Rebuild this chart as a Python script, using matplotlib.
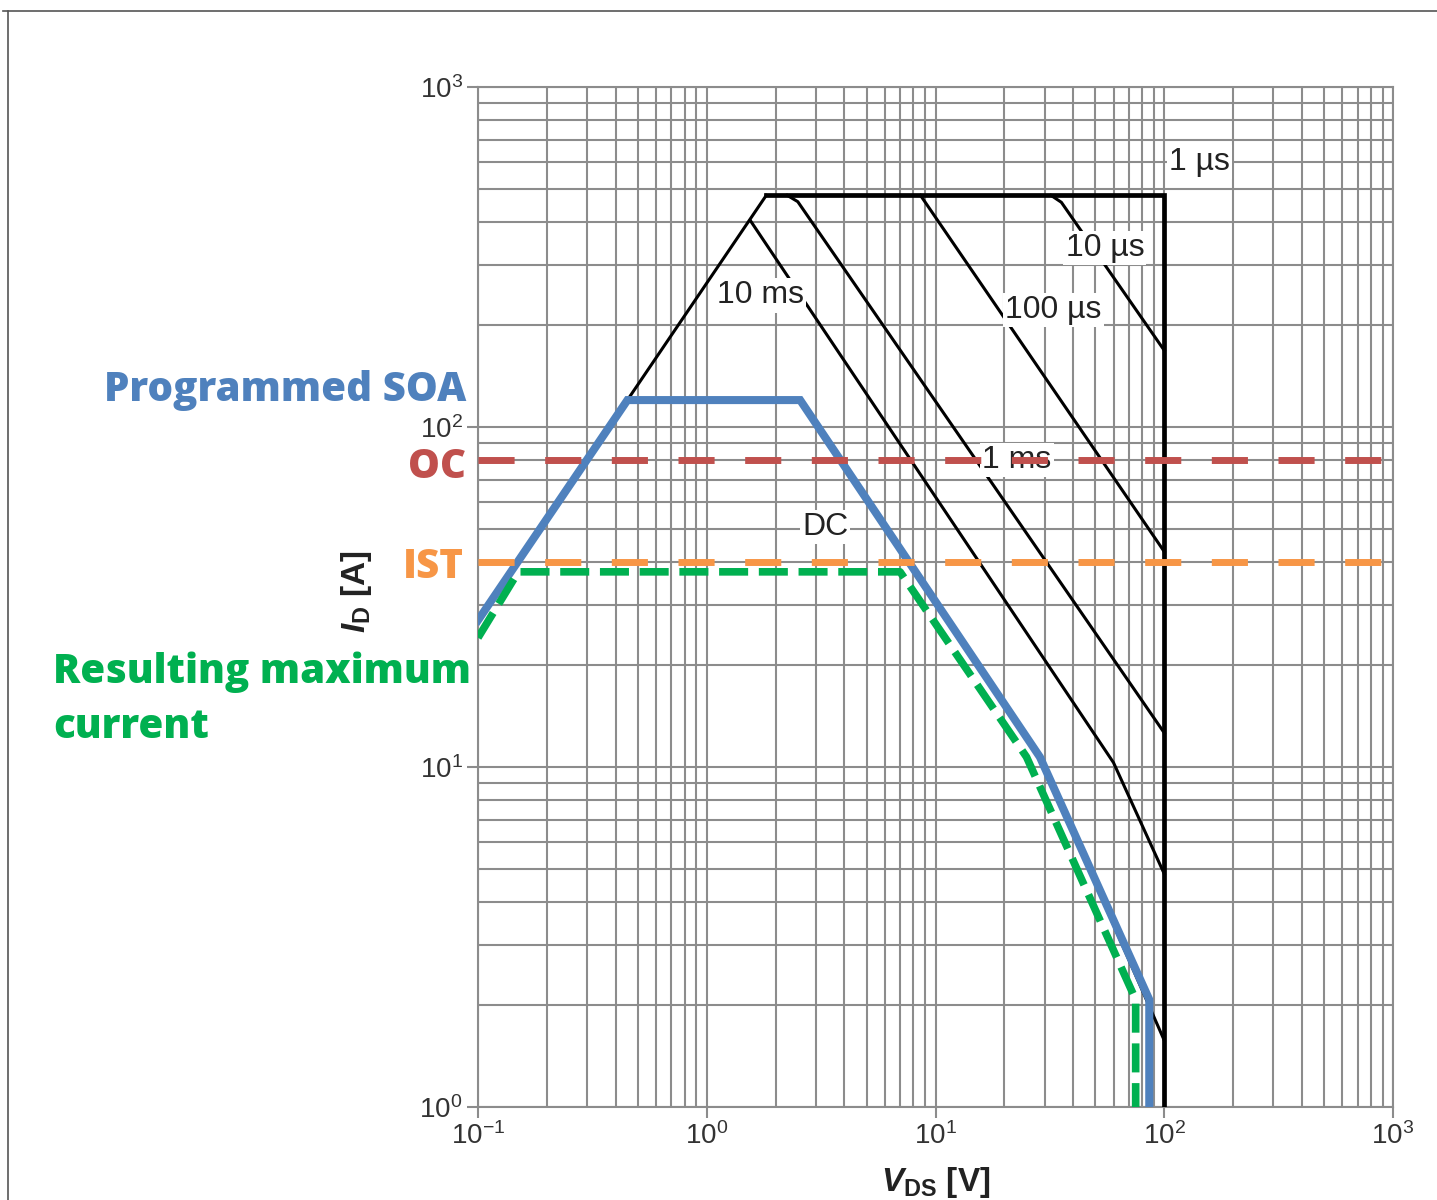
import matplotlib
matplotlib.use('Agg')
import matplotlib.pyplot as plt
from matplotlib.lines import Line2D
from matplotlib.ticker import NullFormatter

# datasheet SOA curves (V_DS in V, I_D in A)
v_rise = [0.1, 1.82]
i_rise = [27, 480]
v_top = [1.82, 100, 100]
i_top = [480, 480, 1]
v_10us = [32, 35.5, 100]
i_10us = [480, 458, 168]
v_100us = [8.6, 100]
i_100us = [480, 43]
v_1ms = [2.25, 2.5, 100]
i_1ms = [480, 460, 12.6]
v_10ms = [1.55, 60, 100]
i_10ms = [405, 10.3, 4.85]
v_dc = [0.45, 2.56, 28.6, 100]
i_dc = [120, 120, 10.7, 1.57]

# programmed SOA and resulting max current
v_soa = [0.1, 0.45, 2.56, 28.6, 86, 86]
i_soa = [27, 120, 120, 10.7, 2.07, 1]
v_res = [0.1, 0.15, 7.0, 25, 75, 75]
i_res = [24, 37.5, 37.5, 10.7, 2.07, 1]

oc_level = 80
ist_level = 40

curve_labels = ['1 µs', '10 µs', '100 µs', '10 ms', '1 ms', 'DC']
label_v = [143, 55, 32.7, 1.71, 22.7, 3.29]
label_i = [601, 336, 221, 244, 80, 50.8]

plt.rcParams['font.family'] = ['Liberation Sans', 'DejaVu Sans']
plt.rcParams['mathtext.fontset'] = 'custom'
plt.rcParams['mathtext.rm'] = 'Liberation Sans'
plt.rcParams['mathtext.it'] = 'Liberation Sans:italic:bold'
plt.rcParams['mathtext.bf'] = 'Liberation Sans:bold'

W, H = 1437, 1200
fig = plt.figure(figsize=(W / 100, H / 100), dpi=100)
ax = fig.add_axes([478 / W, 1 - 1107 / H, 915 / W, 1020 / H])
ax.set_xscale('log')
ax.set_yscale('log')
ax.set_xlim(0.1, 1000)
ax.set_ylim(1, 1000)

gcol = '#8c8c8c'
ax.grid(True, which='both', color=gcol, lw=1.5)
ax.set_axisbelow(True)
for s in ax.spines.values():
    s.set_color(gcol)
    s.set_linewidth(1.5)
ax.tick_params(which='major', length=8, width=1.5, color=gcol,
               labelsize=20, labelcolor='#333333', pad=3)
ax.tick_params(which='minor', length=0)
ax.xaxis.set_minor_formatter(NullFormatter())
ax.yaxis.set_minor_formatter(NullFormatter())

# black datasheet lines
ax.plot(v_rise, i_rise, color='k', lw=2.2, zorder=3)
ax.plot(v_top, i_top, color='k', lw=3.4, zorder=3, solid_joinstyle='miter')
for v, i in [(v_10us, i_10us), (v_100us, i_100us), (v_1ms, i_1ms),
             (v_10ms, i_10ms), (v_dc, i_dc)]:
    ax.plot(v, i, color='k', lw=2.2, zorder=3)

for s, x, y in zip(curve_labels, label_v, label_i):
    ax.text(x, y, s, ha='center', va='center', fontsize=23, color='#222222',
            zorder=4, bbox=dict(facecolor='white', edgecolor='none', pad=1.5))

# programmed levels
ax.plot(v_soa, i_soa, color='#4f81bd', lw=5.8, zorder=5, solid_joinstyle='miter')
ax.axhline(oc_level, color='#c0504d', lw=5, dashes=(5.2, 4.4), zorder=6)
ax.axhline(ist_level, color='#f79646', lw=5, dashes=(5.2, 4.4), zorder=6)
ax.plot(v_res, i_res, color='#00b050', lw=5.5, dashes=(3.8, 1.4), zorder=7)

# left annotations
lab = dict(family=['Open Sans', 'DejaVu Sans'], weight='extra bold', fontsize=29)
fig.text(466 / W, 1 - 401 / H, 'Programmed SOA', ha='right', va='baseline',
         color='#4f81bd', **lab)
fig.text(466 / W, 1 - 478 / H, 'OC', ha='right', va='baseline',
         color='#c0504d', **lab)
fig.text(464 / W, 1 - 578 / H, 'IST', ha='right', va='baseline',
         color='#f79646', **lab)
fig.text(53 / W, 1 - 683 / H, 'Resulting maximum', ha='left', va='baseline',
         color='#00b050', **lab)
fig.text(53 / W, 1 - 738 / H, 'current', ha='left', va='baseline',
         color='#00b050', **lab)

# axis titles
fig.text(357 / W, 1 - 592 / H, r'$\mathit{I}_{\mathbf{D}}$ [A]', rotation=90,
         ha='center', va='center', fontsize=24, fontweight='bold', color='#222222')
fig.text(936 / W, 1 - 1183 / H, r'$\mathit{V}_{\mathbf{DS}}$ [V]',
         ha='center', va='center', fontsize=24, fontweight='bold', color='#222222')

# outer frame (top and left edge)
fig.add_artist(Line2D([3 / W, 1], [1 - 11 / H] * 2, color='#555555', lw=1.2,
                      transform=fig.transFigure))
fig.add_artist(Line2D([8 / W] * 2, [0, 1 - 11 / H], color='#555555', lw=1.2,
                      transform=fig.transFigure))

fig.savefig('out.png', dpi=100)
